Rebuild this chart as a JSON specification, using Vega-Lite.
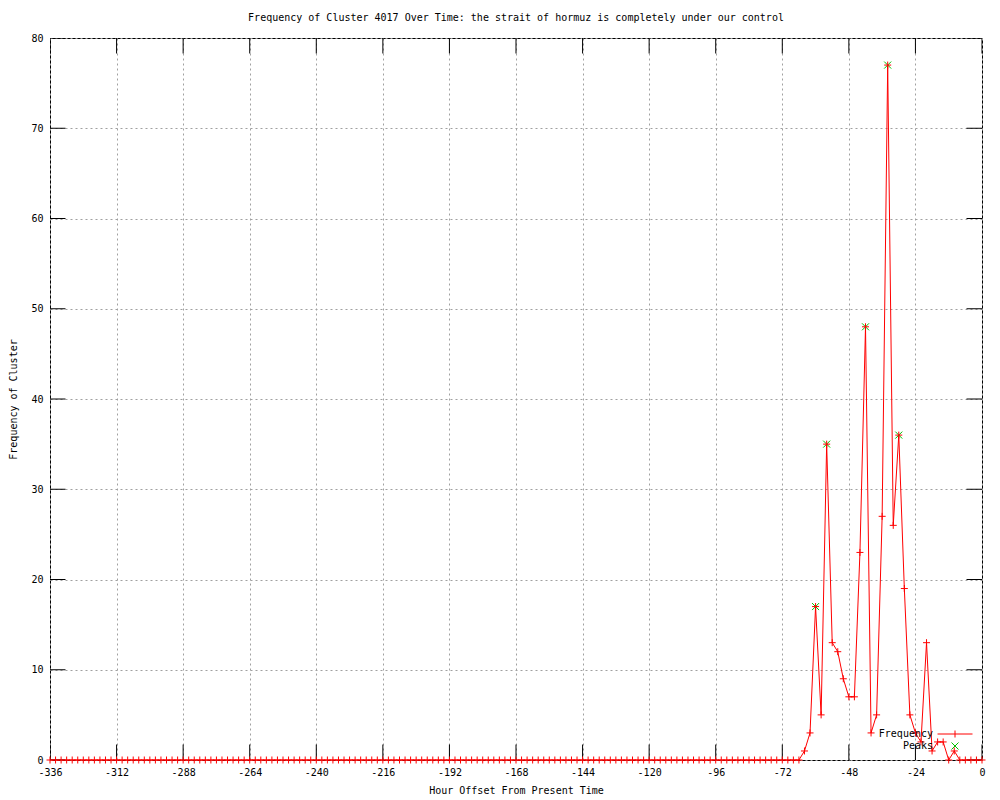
{
  "$schema": "https://vega.github.io/schema/vega-lite/v6.json",
  "width": 932,
  "height": 722,
  "autosize": "none",
  "padding": {"left": 50, "top": 38, "right": 18, "bottom": 40},
  "background": "white",
  "title": {
    "text": "Frequency of Cluster 4017 Over Time: the strait of hormuz is completely under our control",
    "font": "DejaVu Sans Mono", "fontSize": 10, "fontWeight": "normal", "color": "black",
    "anchor": "middle", "offset": 10
  },
  "config": {
    "view": {"stroke": "black", "strokeWidth": 1},
    "axis": {
      "labelFont": "DejaVu Sans Mono", "labelFontSize": 10, "labelColor": "black", "labelFlush": false,
      "titleFont": "DejaVu Sans Mono", "titleFontSize": 10, "titleFontWeight": "normal", "titleColor": "black",
      "gridColor": "#a0a0a0", "gridDash": [2, 3], "gridWidth": 1
    },
    "legend": {
      "labelFont": "DejaVu Sans Mono", "labelFontSize": 10, "labelColor": "black"
    }
  },
  "datasets": {
    "freq": [
      {"hour": -336, "freq": 0}, {"hour": -334, "freq": 0}, {"hour": -332, "freq": 0}, {"hour": -330, "freq": 0}, {"hour": -328, "freq": 0},
      {"hour": -326, "freq": 0}, {"hour": -324, "freq": 0}, {"hour": -322, "freq": 0}, {"hour": -320, "freq": 0}, {"hour": -318, "freq": 0},
      {"hour": -316, "freq": 0}, {"hour": -314, "freq": 0}, {"hour": -312, "freq": 0}, {"hour": -310, "freq": 0}, {"hour": -308, "freq": 0},
      {"hour": -306, "freq": 0}, {"hour": -304, "freq": 0}, {"hour": -302, "freq": 0}, {"hour": -300, "freq": 0}, {"hour": -298, "freq": 0},
      {"hour": -296, "freq": 0}, {"hour": -294, "freq": 0}, {"hour": -292, "freq": 0}, {"hour": -290, "freq": 0}, {"hour": -288, "freq": 0},
      {"hour": -286, "freq": 0}, {"hour": -284, "freq": 0}, {"hour": -282, "freq": 0}, {"hour": -280, "freq": 0}, {"hour": -278, "freq": 0},
      {"hour": -276, "freq": 0}, {"hour": -274, "freq": 0}, {"hour": -272, "freq": 0}, {"hour": -270, "freq": 0}, {"hour": -268, "freq": 0},
      {"hour": -266, "freq": 0}, {"hour": -264, "freq": 0}, {"hour": -262, "freq": 0}, {"hour": -260, "freq": 0}, {"hour": -258, "freq": 0},
      {"hour": -256, "freq": 0}, {"hour": -254, "freq": 0}, {"hour": -252, "freq": 0}, {"hour": -250, "freq": 0}, {"hour": -248, "freq": 0},
      {"hour": -246, "freq": 0}, {"hour": -244, "freq": 0}, {"hour": -242, "freq": 0}, {"hour": -240, "freq": 0}, {"hour": -238, "freq": 0},
      {"hour": -236, "freq": 0}, {"hour": -234, "freq": 0}, {"hour": -232, "freq": 0}, {"hour": -230, "freq": 0}, {"hour": -228, "freq": 0},
      {"hour": -226, "freq": 0}, {"hour": -224, "freq": 0}, {"hour": -222, "freq": 0}, {"hour": -220, "freq": 0}, {"hour": -218, "freq": 0},
      {"hour": -216, "freq": 0}, {"hour": -214, "freq": 0}, {"hour": -212, "freq": 0}, {"hour": -210, "freq": 0}, {"hour": -208, "freq": 0},
      {"hour": -206, "freq": 0}, {"hour": -204, "freq": 0}, {"hour": -202, "freq": 0}, {"hour": -200, "freq": 0}, {"hour": -198, "freq": 0},
      {"hour": -196, "freq": 0}, {"hour": -194, "freq": 0}, {"hour": -192, "freq": 0}, {"hour": -190, "freq": 0}, {"hour": -188, "freq": 0},
      {"hour": -186, "freq": 0}, {"hour": -184, "freq": 0}, {"hour": -182, "freq": 0}, {"hour": -180, "freq": 0}, {"hour": -178, "freq": 0},
      {"hour": -176, "freq": 0}, {"hour": -174, "freq": 0}, {"hour": -172, "freq": 0}, {"hour": -170, "freq": 0}, {"hour": -168, "freq": 0},
      {"hour": -166, "freq": 0}, {"hour": -164, "freq": 0}, {"hour": -162, "freq": 0}, {"hour": -160, "freq": 0}, {"hour": -158, "freq": 0},
      {"hour": -156, "freq": 0}, {"hour": -154, "freq": 0}, {"hour": -152, "freq": 0}, {"hour": -150, "freq": 0}, {"hour": -148, "freq": 0},
      {"hour": -146, "freq": 0}, {"hour": -144, "freq": 0}, {"hour": -142, "freq": 0}, {"hour": -140, "freq": 0}, {"hour": -138, "freq": 0},
      {"hour": -136, "freq": 0}, {"hour": -134, "freq": 0}, {"hour": -132, "freq": 0}, {"hour": -130, "freq": 0}, {"hour": -128, "freq": 0},
      {"hour": -126, "freq": 0}, {"hour": -124, "freq": 0}, {"hour": -122, "freq": 0}, {"hour": -120, "freq": 0}, {"hour": -118, "freq": 0},
      {"hour": -116, "freq": 0}, {"hour": -114, "freq": 0}, {"hour": -112, "freq": 0}, {"hour": -110, "freq": 0}, {"hour": -108, "freq": 0},
      {"hour": -106, "freq": 0}, {"hour": -104, "freq": 0}, {"hour": -102, "freq": 0}, {"hour": -100, "freq": 0}, {"hour": -98, "freq": 0},
      {"hour": -96, "freq": 0}, {"hour": -94, "freq": 0}, {"hour": -92, "freq": 0}, {"hour": -90, "freq": 0}, {"hour": -88, "freq": 0},
      {"hour": -86, "freq": 0}, {"hour": -84, "freq": 0}, {"hour": -82, "freq": 0}, {"hour": -80, "freq": 0}, {"hour": -78, "freq": 0},
      {"hour": -76, "freq": 0}, {"hour": -74, "freq": 0}, {"hour": -72, "freq": 0}, {"hour": -70, "freq": 0}, {"hour": -68, "freq": 0},
      {"hour": -66, "freq": 0}, {"hour": -64, "freq": 1}, {"hour": -62, "freq": 3}, {"hour": -60, "freq": 17}, {"hour": -58, "freq": 5},
      {"hour": -56, "freq": 35}, {"hour": -54, "freq": 13}, {"hour": -52, "freq": 12}, {"hour": -50, "freq": 9}, {"hour": -48, "freq": 7},
      {"hour": -46, "freq": 7}, {"hour": -44, "freq": 23}, {"hour": -42, "freq": 48}, {"hour": -40, "freq": 3}, {"hour": -38, "freq": 5},
      {"hour": -36, "freq": 27}, {"hour": -34, "freq": 77}, {"hour": -32, "freq": 26}, {"hour": -30, "freq": 36}, {"hour": -28, "freq": 19},
      {"hour": -26, "freq": 5}, {"hour": -24, "freq": 3}, {"hour": -22, "freq": 2}, {"hour": -20, "freq": 13}, {"hour": -18, "freq": 1},
      {"hour": -16, "freq": 2}, {"hour": -14, "freq": 2}, {"hour": -12, "freq": 0}, {"hour": -10, "freq": 1}, {"hour": -8, "freq": 0},
      {"hour": -6, "freq": 0}, {"hour": -4, "freq": 0}, {"hour": -2, "freq": 0}, {"hour": 0, "freq": 0}
    ],
    "peaks": [
      {"hour": -60, "freq": 17}, {"hour": -56, "freq": 35}, {"hour": -42, "freq": 48}, {"hour": -34, "freq": 77}, {"hour": -30, "freq": 36}
    ],
    "yticks": [
      {"value": 0}, {"value": 10}, {"value": 20}, {"value": 30}, {"value": 40}, {"value": 50}, {"value": 60}, {"value": 70}, {"value": 80}
    ]
  },
  "layer": [
    {
      "data": {"name": "freq"},
      "mark": {"type": "line", "color": "#ff0000", "strokeWidth": 1},
      "encoding": {
        "x": {"field": "hour", "type": "quantitative",
          "scale": {"domain": [-336, 0], "nice": false, "zero": false},
          "axis": {"orient": "bottom", "title": "Hour Offset From Present Time", "grid": true, "ticks": false, "domain": false,
            "values": [-336, -312, -288, -264, -240, -216, -192, -168, -144, -120, -96, -72, -48, -24, 0],
            "labelExpr": "'' + datum.value", "labelPadding": 7, "titlePadding": 8}},
        "y": {"field": "freq", "type": "quantitative",
          "scale": {"domain": [0, 80], "nice": false},
          "axis": {"orient": "left", "title": "Frequency of Cluster", "grid": true, "ticks": false, "domain": false,
            "values": [0, 10, 20, 30, 40, 50, 60, 70, 80],
            "labelExpr": "'' + datum.value", "labelPadding": 7, "titlePadding": 12}}
      }
    },
    {
      "data": {"name": "freq"},
      "transform": [{"filter": "datum.hour % 24 == 0"}],
      "mark": {"type": "tick", "orient": "vertical", "size": 31, "thickness": 1, "color": "black", "opacity": 1, "clip": true},
      "encoding": {
        "x": {"field": "hour", "type": "quantitative"},
        "y": {"datum": 0, "type": "quantitative"}
      }
    },
    {
      "data": {"name": "freq"},
      "transform": [{"filter": "datum.hour % 24 == 0"}],
      "mark": {"type": "tick", "orient": "vertical", "size": 31, "thickness": 1, "color": "black", "opacity": 1, "clip": true},
      "encoding": {
        "x": {"field": "hour", "type": "quantitative"},
        "y": {"datum": 80, "type": "quantitative"}
      }
    },
    {
      "data": {"name": "yticks"},
      "mark": {"type": "tick", "orient": "horizontal", "size": 31, "thickness": 1, "color": "black", "opacity": 1, "clip": true},
      "encoding": {
        "x": {"datum": -336, "type": "quantitative"},
        "y": {"field": "value", "type": "quantitative"}
      }
    },
    {
      "data": {"name": "yticks"},
      "mark": {"type": "tick", "orient": "horizontal", "size": 31, "thickness": 1, "color": "black", "opacity": 1, "clip": true},
      "encoding": {
        "x": {"datum": 0, "type": "quantitative"},
        "y": {"field": "value", "type": "quantitative"}
      }
    },
    {
      "data": {"name": "peaks"},
      "mark": {"type": "point", "shape": "M-1,-1L1,1M-1,1L1,-1", "size": 49, "filled": false, "strokeWidth": 1, "opacity": 1, "color": "#00c000"},
      "encoding": {
        "x": {"field": "hour", "type": "quantitative"},
        "y": {"field": "freq", "type": "quantitative"}
      }
    },
    {
      "data": {"name": "freq"},
      "mark": {"type": "point", "shape": "M-1,0L1,0M0,-1L0,1", "size": 49, "filled": false, "strokeWidth": 1, "opacity": 1, "color": "#ff0000"},
      "encoding": {
        "x": {"field": "hour", "type": "quantitative"},
        "y": {"field": "freq", "type": "quantitative"}
      }
    },
    {
      "data": {"name": "peaks"},
      "transform": [{"filter": "datum.freq < 0"}],
      "mark": {"type": "point", "size": 49, "filled": false, "strokeWidth": 1, "opacity": 1},
      "encoding": {
        "x": {"field": "hour", "type": "quantitative"},
        "y": {"field": "freq", "type": "quantitative"},
        "color": {"datum": "Frequency",
          "scale": {"domain": ["Frequency", "Peaks"], "range": ["#ff0000", "#00c000"]},
          "legend": {"title": null, "orient": "none", "legendX": 900, "legendY": 691,
            "padding": 0, "symbolSize": 49, "symbolStrokeWidth": 1, "labelAlign": "right", "labelOffset": -27,
            "rowPadding": 0}},
        "shape": {"datum": "Frequency",
          "scale": {"domain": ["Frequency", "Peaks"], "range": ["M-5,0L5,0M0,-1L0,1", "M-1,-1L1,1M-1,1L1,-1"]},
          "legend": {"title": null, "orient": "none", "legendX": 900, "legendY": 691,
            "padding": 0, "symbolSize": 49, "symbolStrokeWidth": 1, "labelAlign": "right", "labelOffset": -27,
            "rowPadding": 0}}
      }
    }
  ]
}
